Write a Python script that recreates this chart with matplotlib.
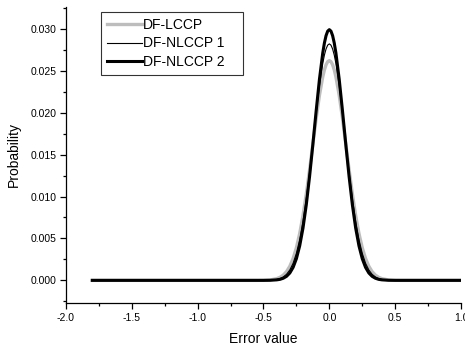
import matplotlib
matplotlib.use("Agg")
import matplotlib.pyplot as plt
from matplotlib.ticker import MultipleLocator, FormatStrFormatter

plt.rcParams['font.family'] = ['Liberation Sans', 'DejaVu Sans']

# error values (x) and probability curves
x = [-1.8, -0.55, -0.5, -0.45, -0.4, -0.375, -0.35, -0.325, -0.3, -0.275,
     -0.25, -0.225, -0.2, -0.175, -0.15, -0.125, -0.1, -0.075, -0.05, -0.0375,
     -0.025, -0.0125, 0.0, 0.0125, 0.025, 0.0375, 0.05, 0.075, 0.1, 0.125,
     0.15, 0.175, 0.2, 0.225, 0.25, 0.275, 0.3, 0.325, 0.35, 0.375,
     0.4, 0.45, 0.5, 0.55, 1.0]

df_lccp = [0.0, 0.0, 0.00001, 0.00005, 0.00020, 0.00036, 0.00062, 0.00104, 0.00168, 0.00261,
           0.00389, 0.00559, 0.00773, 0.01029, 0.01319, 0.01626, 0.01931, 0.02207, 0.02427, 0.02510,
           0.02571, 0.02608, 0.02620, 0.02608, 0.02571, 0.02510, 0.02427, 0.02207, 0.01931, 0.01626,
           0.01319, 0.01029, 0.00773, 0.00559, 0.00389, 0.00261, 0.00168, 0.00104, 0.00062, 0.00036,
           0.00020, 0.00005, 0.00001, 0.0, 0.0]

df_nlccp1 = [0.0, 0.0, 0.0, 0.00002, 0.00011, 0.00021, 0.00040, 0.00072, 0.00124, 0.00204,
             0.00322, 0.00486, 0.00703, 0.00974, 0.01291, 0.01639, 0.01993, 0.02320, 0.02586, 0.02686,
             0.02759, 0.02805, 0.02820, 0.02805, 0.02759, 0.02686, 0.02586, 0.02320, 0.01993, 0.01639,
             0.01291, 0.00974, 0.00703, 0.00486, 0.00322, 0.00204, 0.00124, 0.00072, 0.00040, 0.00021,
             0.00011, 0.00002, 0.0, 0.0, 0.0]

df_nlccp2 = [0.0, 0.0, 0.0, 0.00001, 0.00006, 0.00012, 0.00025, 0.00048, 0.00088, 0.00155,
             0.00259, 0.00412, 0.00624, 0.00901, 0.01239, 0.01622, 0.02021, 0.02399, 0.02711, 0.02830,
             0.02918, 0.02972, 0.02990, 0.02972, 0.02918, 0.02830, 0.02711, 0.02399, 0.02021, 0.01622,
             0.01239, 0.00901, 0.00624, 0.00412, 0.00259, 0.00155, 0.00088, 0.00048, 0.00025, 0.00012,
             0.00006, 0.00001, 0.0, 0.0, 0.0]

fig = plt.figure(figsize=(4.65, 3.48), dpi=100)
ax = fig.add_axes([0.1419, 0.1293, 0.8495, 0.8506])

ax.plot(x, df_lccp, color='#bdbdbd', lw=2.4, label='DF-LCCP')
ax.plot(x, df_nlccp1, color='black', lw=0.8, label='DF-NLCCP 1')
ax.plot(x, df_nlccp2, color='black', lw=2.2, label='DF-NLCCP 2')

ax.set_xlim(-2.0, 1.0)
ax.set_ylim(-0.0027, 0.0326)
ax.xaxis.set_major_locator(MultipleLocator(0.5))
ax.xaxis.set_minor_locator(MultipleLocator(0.25))
ax.yaxis.set_major_locator(MultipleLocator(0.005))
ax.yaxis.set_minor_locator(MultipleLocator(0.0025))
ax.xaxis.set_major_formatter(FormatStrFormatter('%.1f'))
ax.yaxis.set_major_formatter(FormatStrFormatter('%.3f'))

for side in ['top', 'right']:
    ax.spines[side].set_visible(False)
for side in ['left', 'bottom']:
    ax.spines[side].set_linewidth(0.9)
ax.tick_params(which='major', direction='out', length=4, width=0.9, labelsize=7.5, pad=3)
ax.tick_params(which='minor', direction='out', length=2.5, width=0.9)

ax.set_xlabel('Error value', fontsize=10, labelpad=7)
ax.set_ylabel('Probability', fontsize=10, labelpad=7)

# legend box spans roughly x 101..243, y 12..77 px in the reference
leg = ax.legend(loc='upper left', mode='expand',
                bbox_to_anchor=(101 / 465, 1 - 77 / 348, 142 / 465, 65 / 348),
                bbox_transform=fig.transFigure, fontsize=10, frameon=True,
                fancybox=False, handlelength=2.5, handletextpad=0.05,
                labelspacing=0.3, borderpad=0.45, borderaxespad=0)
leg.get_frame().set_edgecolor('black')
leg.get_frame().set_linewidth(0.8)

fig.savefig('out.png', dpi=100)
